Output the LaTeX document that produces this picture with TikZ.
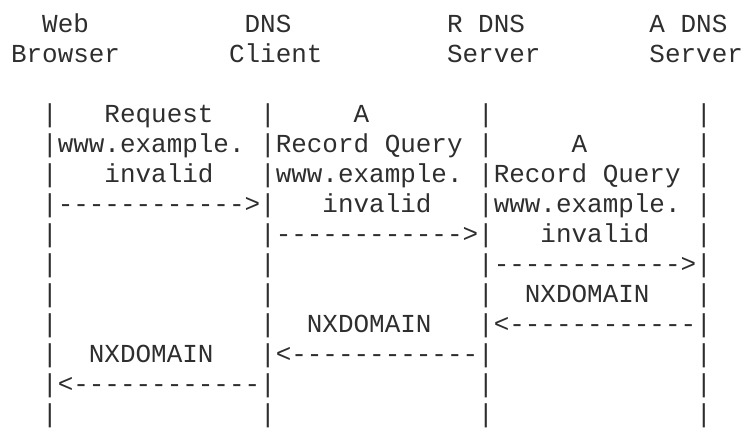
\documentclass[tikz,border=0pt]{standalone}
\usepackage{fontspec}
\setmonofont{Liberation Mono}
\definecolor{ink}{HTML}{2E2E2E}

\begin{document}
\begin{tikzpicture}
			[x=11.678pt, y=-22.5pt,
			every node/.style={anchor=base west,inner sep=0pt,outer sep=0pt,text=ink,
				font=\ttfamily\fontsize{19.46}{22.5}\selectfont}]
			\useasboundingbox (-0.711,-1.067) rectangle (47.263,13.433);
			\node (web) at (2,0) {Web};
			\node (dns) at (15,0) {DNS};
			\node (rdns) at (28,0) {R DNS};
			\node (adns) at (41,0) {A DNS};
			\node (browser) at (0,1) {Browser};
			\node (client) at (14,1) {Client};
			\node (rserver) at (28,1) {Server};
			\node (aserver) at (41,1) {Server};
			\foreach \c/\n in {2/wb,16/dc,30/rd,44/ad}
				\foreach \r in {3,...,13}
					\node (\n\r) at (\c,\r) {|};
			\node (req) at (6,3) {Request};
			\node (reqa) at (3,4) {www.example.};
			\node (reqb) at (6,5) {invalid};
			\node (q1) at (3,6) {------------>};
			\node (qa) at (22,3) {A};
			\node (qb) at (17,4) {Record Query};
			\node (qc) at (17,5) {www.example.};
			\node (qd) at (20,6) {invalid};
			\node (q2) at (17,7) {------------>};
			\node (ra) at (36,4) {A};
			\node (rb) at (31,5) {Record Query};
			\node (rc) at (31,6) {www.example.};
			\node (rd) at (34,7) {invalid};
			\node (q3) at (31,8) {------------>};
			\node (nx1) at (33,9) {NXDOMAIN};
			\node (r1) at (31,10) {<------------};
			\node (nx2) at (19,10) {NXDOMAIN};
			\node (r2) at (17,11) {<------------};
			\node (nx3) at (5,11) {NXDOMAIN};
			\node (r3) at (3,12) {<------------};
		\end{tikzpicture}
\end{document}
